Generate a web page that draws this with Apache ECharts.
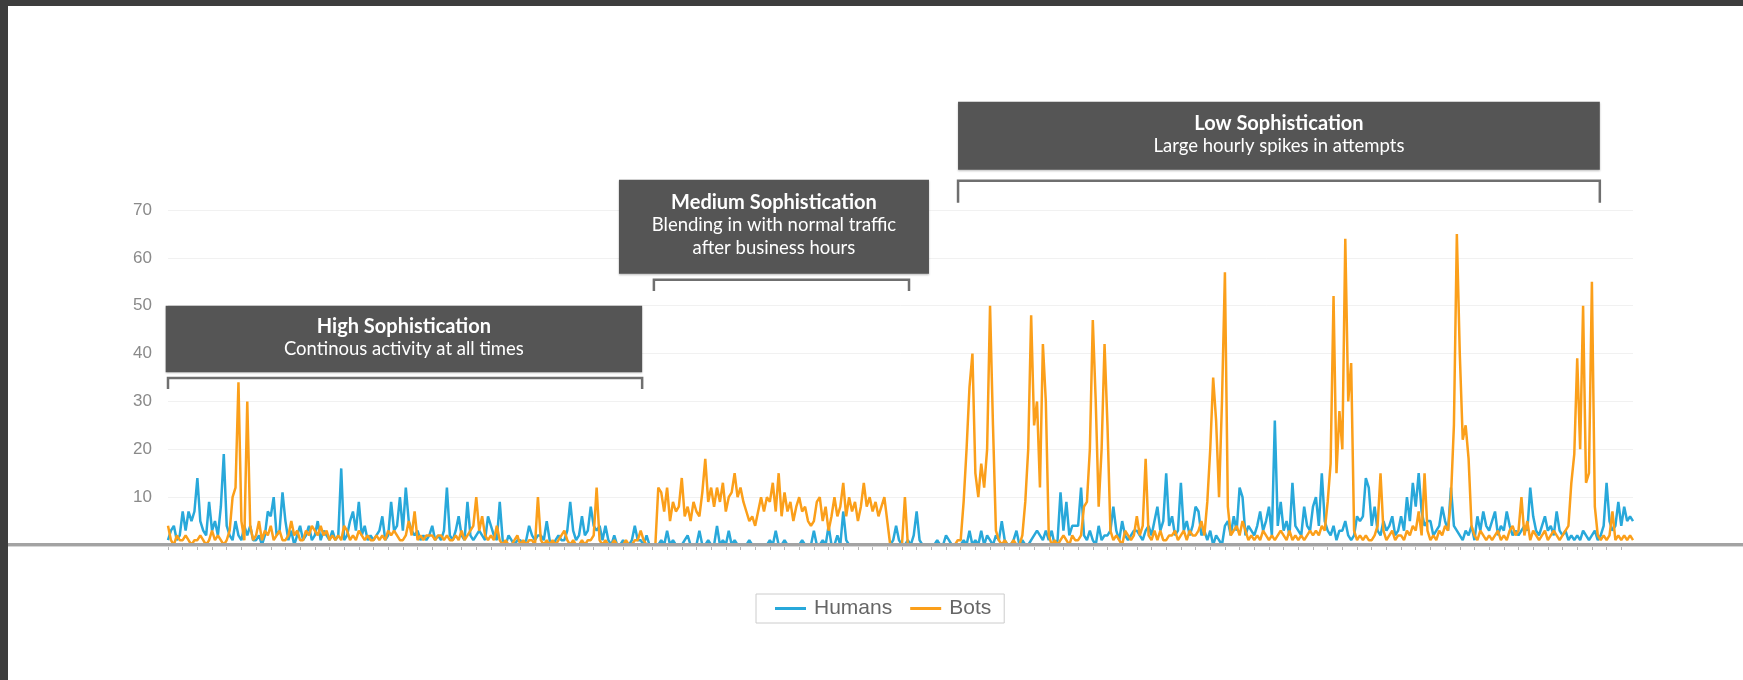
<!DOCTYPE html>
<html>
<head>
<meta charset="utf-8">
<script src="https://cdn.jsdelivr.net/npm/echarts@6/dist/echarts.min.js"></script>
<style>
html,body{margin:0;padding:0;background:#fff;}
#c{width:1743px;height:680px;}
</style>
</head>
<body>
<div id="c"></div>
<script>
// ---- data ----
const humans = [
 1,3,4,1,2,7,3,7,5,7,
 14,5,3,2,9,3,5,2,8,19,
 4,2,1,5,2,1,4,2,4,1,
 1,2,0,2,7,6,10,2,3,11,
 5,1,3,0,2,4,1,2,4,1,
 2,5,1,3,2,1,3,1,2,16,
 1,2,5,7,3,9,2,4,1,2,
 1,2,3,6,1,2,9,3,4,10,
 3,12,5,3,2,3,1,2,1,2,
 4,1,2,1,3,12,2,1,3,6,
 2,1,9,2,1,2,3,2,1,6,
 4,2,1,9,1,0,2,1,0,1,
 1,0,1,4,2,1,2,2,1,5,
 1,0,1,2,1,1,3,9,3,1,
 2,6,2,3,8,4,3,4,1,4,
 1,0,2,0,0,1,0,0,1,4,
 1,1,0,2,0,0,0,0,1,0,
 3,0,1,0,0,0,1,2,0,0,
 0,3,0,0,1,0,0,4,0,1,
 0,3,0,1,0,0,0,0,1,0,
 0,0,0,0,0,1,0,3,0,0,
 1,0,0,0,0,0,1,0,0,0,
 3,0,0,1,0,4,0,0,2,0,
 7,1,0,0,0,0,0,0,0,0,
 0,0,0,0,0,0,0,1,4,1,
 0,0,1,0,2,7,1,0,0,0,
 0,0,1,0,0,2,1,0,0,0,
 0,1,0,3,0,1,0,3,0,2,
 1,0,2,1,5,1,0,0,1,3,
 0,1,0,0,1,2,3,2,1,3,
 1,3,0,1,11,3,9,2,4,4,
 4,12,2,1,3,1,0,4,1,2,
 2,3,8,3,1,5,2,1,2,3,
 3,2,1,3,4,2,5,8,3,5,
 15,4,6,2,3,13,3,5,2,4,
 8,7,2,3,1,3,0,2,1,0,
 4,5,2,6,3,12,10,2,4,3,
 2,4,7,3,5,8,2,26,4,9,
 3,5,2,13,4,3,2,8,4,3,
 8,10,4,15,5,3,2,4,1,3,
 3,5,2,1,2,6,5,6,14,12,
 4,8,3,2,5,3,4,6,2,3,
 6,3,10,5,13,8,15,7,4,5,
 5,2,3,4,8,5,3,12,4,3,
 2,1,3,2,4,1,6,3,7,4,
 3,5,7,2,4,3,7,4,2,3,
 2,3,4,3,12,6,3,2,4,6,
 3,4,2,7,3,2,3,1,2,1,
 2,1,3,2,1,2,3,1,2,4,
 13,5,3,4,9,4,8,5,6,5
];
const bots = [
 4,1,0,2,1,1,2,1,0,1,
 1,2,1,0,1,3,1,2,1,0,
 1,3,10,12,34,5,1,30,4,1,
 2,5,1,3,2,4,1,2,3,1,
 1,2,5,2,3,1,1,3,2,4,
 3,2,4,2,3,1,2,1,2,1,
 4,3,1,2,1,3,2,1,2,1,
 1,2,1,2,1,3,2,3,2,1,
 1,2,5,2,7,1,2,1,2,2,
 2,1,2,2,1,2,1,1,2,1,
 3,1,2,3,4,10,3,6,2,1,
 2,1,4,1,0,1,0,0,1,2,
 0,1,0,1,1,0,10,1,0,1,
 0,1,0,1,2,3,1,0,1,0,
 0,1,0,1,1,2,12,1,0,1,
 0,0,1,0,0,0,1,0,0,1,
 1,3,1,0,0,0,0,12,11,7,
 12,5,9,7,8,14,6,8,5,9,
 7,6,11,18,9,12,8,12,9,13,
 7,10,11,15,10,12,9,7,5,6,
 4,7,10,7,10,9,13,7,15,6,
 11,7,9,5,8,10,7,8,5,4,
 5,9,10,5,8,3,6,10,6,8,
 13,6,10,7,9,5,8,13,8,10,
 7,9,6,8,10,5,0,0,0,0,
 0,10,0,0,0,0,0,0,0,0,
 0,0,0,0,0,0,0,0,0,1,
 1,9,20,33,40,15,10,17,12,20,
 50,25,3,1,0,1,0,0,1,0,
 0,2,9,20,48,25,30,12,42,30,
 2,0,1,0,1,2,1,0,2,1,
 1,2,8,9,20,47,30,8,20,42,
 25,3,1,2,1,0,3,2,1,2,
 6,2,4,18,2,1,3,1,3,1,
 1,2,2,3,1,2,3,1,3,2,
 2,3,5,2,9,20,35,26,10,30,
 57,8,2,3,4,2,5,3,1,2,
 1,2,1,3,2,1,2,1,2,3,
 2,1,3,1,2,1,2,1,2,3,
 2,3,2,4,3,9,17,52,15,28,
 20,64,30,38,3,1,2,1,2,1,
 1,2,4,15,3,1,2,3,1,2,
 2,1,3,2,4,3,7,2,15,3,
 1,2,1,3,2,4,3,10,25,65,
 40,22,25,18,4,2,1,3,2,1,
 2,1,2,3,1,2,1,3,4,2,
 3,10,2,5,1,3,2,1,2,3,
 1,2,3,2,1,2,3,4,13,19,
 39,20,50,13,15,55,8,2,1,2,
 1,2,7,1,2,1,2,1,2,1
];
const hours = humans.map((_, i) => 'h' + i);
const seriesNames = ['Humans', 'Bots'];
const yTicks = [10, 20, 30, 40, 50, 60, 70];
const noteTitles = ['High Sophistication', 'Medium Sophistication', 'Low Sophistication'];
const noteLines = [
  ['Continous activity at all times'],
  ['Blending in with normal traffic', 'after business hours'],
  ['Large hourly spikes in attempts']
];

// ---- chart ----
const chart = echarts.init(document.getElementById('c'), null, {renderer: 'canvas'});
const N = hours.length;
chart.setOption({
  animation: false,
  backgroundColor: '#ffffff',
  grid: {left: 168, right: 110, top: 210, bottom: 135, containLabel: false},
  legend: {
    data: seriesNames,
    left: 756, top: 594,
    orient: 'horizontal',
    icon: 'rect',
    itemWidth: 31, itemHeight: 3,
    itemGap: 18,
    padding: [4, 13, 4, 19],
    borderColor: '#cccccc', borderWidth: 1,
    textStyle: {fontFamily: 'Liberation Sans, Arial, sans-serif', fontSize: 21, color: '#666666', padding: [0, 0, 0, 3]}
  },
  xAxis: {
    type: 'category',
    data: hours,
    boundaryGap: false,
    axisLine: {show: false},
    axisTick: {show: true, interval: 4, length: 5, lineStyle: {color: '#b5b5b5', width: 1}},
    axisLabel: {show: false},
    splitLine: {show: false}
  },
  yAxis: {
    type: 'value',
    min: 0, max: 70, interval: 10,
    axisLine: {show: false},
    axisTick: {show: false},
    axisLabel: {
      margin: 16,
      color: '#8a8a8a',
      fontFamily: 'Liberation Sans, Arial, sans-serif',
      fontSize: 17,
      formatter: v => (yTicks.indexOf(v) >= 0 ? String(v) : '')
    },
    splitLine: {show: true, lineStyle: {color: '#f1f1f1', width: 1}}
  },
  series: [
    {name: seriesNames[0], type: 'line', data: humans, showSymbol: false, symbol: 'none',
     lineStyle: {color: '#28a8da', width: 2.5}, itemStyle: {color: '#28a8da'}, z: 2},
    {name: seriesNames[1], type: 'line', data: bots, showSymbol: false, symbol: 'none',
     lineStyle: {color: '#fb9f1a', width: 2.5}, itemStyle: {color: '#fb9f1a'}, z: 3}
  ]
});

// ---- decorations anchored to the chart's scales ----
const px0 = chart.convertToPixel({xAxisIndex: 0}, 0);
const px1 = chart.convertToPixel({xAxisIndex: 0}, N - 1);
const py0 = chart.convertToPixel({yAxisIndex: 0}, 0);
const py70 = chart.convertToPixel({yAxisIndex: 0}, 70);
const X = i => px0 + (px1 - px0) * i / (N - 1);
const Y = v => py0 + (py70 - py0) * v / 70;

const layout = [
  {box: [-0.8, 161.5, 50.0, 36.1], br: [0, 161.5, 34.9, 32.6]},
  {box: [153.6, 259.2, 76.3, 56.7], br: [165.5, 252.4, 55.4, 53.1]},
  {box: [269.1, 487.7, 92.6, 78.4], br: [269.1, 487.7, 76.1, 71.5]}
];

const g = [];
// page frame (dark edges)
g.push({type: 'rect', left: 0, top: 0, shape: {width: 1743, height: 6}, style: {fill: '#3d3d3d'}, z: 100});
g.push({type: 'rect', left: 0, top: 0, shape: {width: 8, height: 680}, style: {fill: '#3d3d3d'}, z: 100});
// baseline across the page
g.push({type: 'line', shape: {x1: 8, y1: py0 + 1, x2: 1743, y2: py0 + 1}, style: {stroke: '#d6d6d6', lineWidth: 2}, z: 9});
g.push({type: 'line', shape: {x1: 8, y1: py0 - 0.5, x2: 1743, y2: py0 - 0.5}, style: {stroke: '#a3a3a3', lineWidth: 3}, z: 10});

layout.forEach((L, k) => {
  const x0 = X(L.box[0]), x1 = X(L.box[1]);
  const yt = Y(L.box[2]), yb = Y(L.box[3]);
  g.push({type: 'rect', shape: {x: x0, y: yt, width: x1 - x0, height: yb - yt},
          style: {fill: '#555555', shadowBlur: 2, shadowColor: 'rgba(0,0,0,0.25)', shadowOffsetY: 1}, z: 20});
  const lines = [noteTitles[k]].concat(noteLines[k]);
  const lh = 22.5;
  const cy = (yt + yb) / 2 - 1.5;
  const startY = cy - lh * (lines.length - 1) / 2;
  const cx = (x0 + x1) / 2;
  lines.forEach((t, j) => {
    g.push({type: 'text', x: cx, y: startY + j * lh, z: 21,
      style: {text: t, fill: '#ffffff', align: 'center', verticalAlign: 'middle',
        fontFamily: 'Lato, "Open Sans", sans-serif',
        fontSize: j === 0 ? 20 : 18.5,
        fontWeight: j === 0 ? 'bold' : 'normal'}});
  });
  const bx0 = X(L.br[0]), bx1 = X(L.br[1]);
  const by = Y(L.br[2]), byd = Y(L.br[3]);
  g.push({type: 'polyline', z: 20,
    shape: {points: [[bx0, byd], [bx0, by], [bx1, by], [bx1, byd]]},
    style: {stroke: '#6f6f6f', lineWidth: 2.5, fill: null, lineJoin: 'miter'}});
});

chart.setOption({graphic: g});
</script>
</body>
</html>
